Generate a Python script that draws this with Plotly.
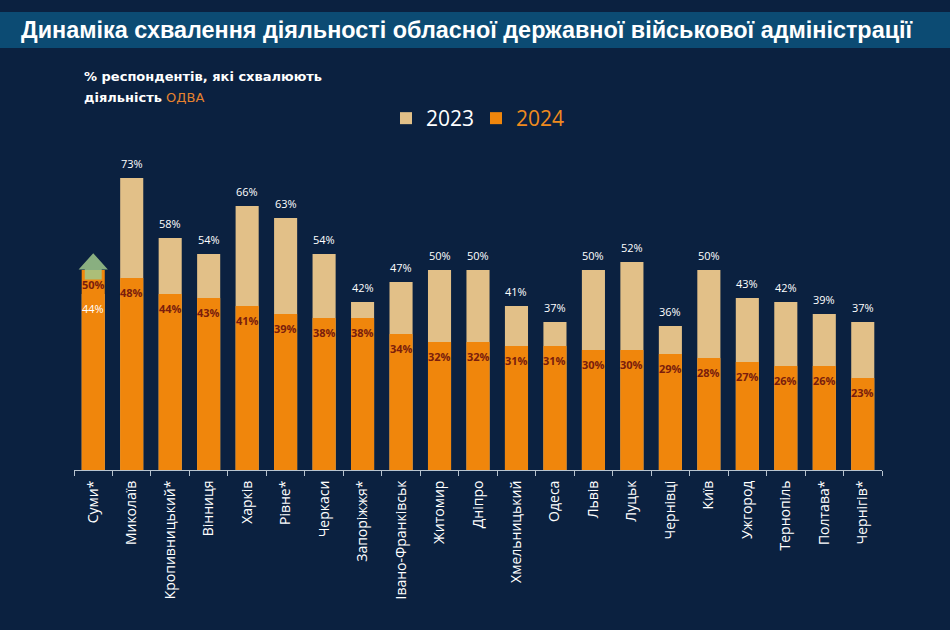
import plotly.graph_objects as go

cities = ["Суми*", "Миколаїв", "Кропивницький*", "Вінниця", "Харків", "Рівне*", "Черкаси",
          "Запоріжжя*", "Івано-Франківськ", "Житомир", "Дніпро", "Хмельницький", "Одеса",
          "Львів", "Луцьк", "Чернівці", "Київ", "Ужгород", "Тернопіль", "Полтава*", "Чернігів*"]
v2023 = [44, 73, 58, 54, 66, 63, 54, 42, 47, 50, 50, 41, 37, 50, 52, 36, 50, 43, 42, 39, 37]
v2024 = [50, 48, 44, 43, 41, 39, 38, 38, 34, 32, 32, 31, 31, 30, 30, 29, 28, 27, 26, 26, 23]

BG = "#0b2140"
BAND = "#0c4b73"
TAN = "#e2c088"
ORANGE = "#f0860c"
DARKRED = "#7a1d0c"

fig = go.Figure()
fig.add_trace(go.Bar(x=cities, y=v2023, name="2023", marker=dict(color=TAN, line=dict(width=0))))
fig.add_trace(go.Bar(x=cities, y=v2024, name="<span style='color:#ef8a1e'>2024</span>",
                     marker=dict(color=ORANGE, line=dict(width=0))))

ann = []
for c, a, b in zip(cities, v2023, v2024):
    if a > b:
        ann.append(dict(x=c, y=a, text=f"{a}%", showarrow=False, yanchor="bottom", yshift=5,
                        font=dict(color="white", size=11, family="Open Sans")))
    else:
        ann.append(dict(x=c, y=a, text=f"{a}%", showarrow=False, yanchor="top", yshift=-5,
                        font=dict(color="white", size=11, family="Open Sans")))
    ann.append(dict(x=c, y=b, text=f"<b>{b}%</b>", showarrow=False, yanchor="top", yshift=-5,
                    font=dict(color=DARKRED, size=11, family="Open Sans")))

ann.append(dict(xref="paper", yref="paper", x=0.4864, y=1.375, xanchor="center", yanchor="middle",
                text="<b>Динаміка схвалення діяльності обласної державної військової адміністрації</b>",
                showarrow=False, font=dict(color="white", size=23.4, family="Liberation Sans")))
ann.append(dict(xref="paper", yref="paper", x=0.0099, y=(470 - 76) / 320, xanchor="left", yanchor="middle",
                text="<b>% респондентів, які схвалюють</b>", showarrow=False,
                font=dict(color="white", size=13, family="DejaVu Sans")))
ann.append(dict(xref="paper", yref="paper", x=0.0099, y=(470 - 97) / 320, xanchor="left", yanchor="middle",
                text="<b>діяльність</b> <span style='color:#e5822f'>ОДВА</span>", showarrow=False,
                font=dict(color="white", size=13, family="DejaVu Sans")))

shapes = [
    dict(type="rect", xref="paper", yref="paper", x0=-0.2, x1=1.2, y0=(470 - 48) / 320, y1=(470 - 12) / 320,
         fillcolor=BAND, line=dict(width=0), layer="below"),
    dict(type="path", xref="x", yref="y",
         path="M -0.22 47.6 L -0.22 50.1 L -0.38 50.1 L 0 54.2 L 0.38 50.1 L 0.22 50.1 L 0.22 47.6 Z",
         fillcolor="rgba(160,200,140,0.85)", line=dict(width=0)),
]

fig.update_layout(
    width=950, height=630,
    paper_bgcolor=BG, plot_bgcolor=BG,
    margin=dict(l=74, r=68, t=150, b=160),
    barmode="overlay", bargap=0.4,
    showlegend=True,
    legend=dict(orientation="h", x=(386 - 74) / 808, y=(470 - 98) / 320, xanchor="left", yanchor="top",
                font=dict(color="white", size=21, family="Open Sans"), bgcolor="rgba(0,0,0,0)",
                traceorder="normal", entrywidth=45),
    xaxis=dict(showline=True, linecolor="#b8c4d0", linewidth=1, ticks="outside", tickson="boundaries",
               tickcolor="#b8c4d0", ticklen=5, tickangle=-90, ticklabelstandoff=4,
               tickfont=dict(color="white", size=14, family="Open Sans"), showgrid=False),
    yaxis=dict(visible=False, range=[0, 80], showgrid=False, zeroline=False),
    annotations=ann, shapes=shapes,
)

fig.write_html("out.html")
